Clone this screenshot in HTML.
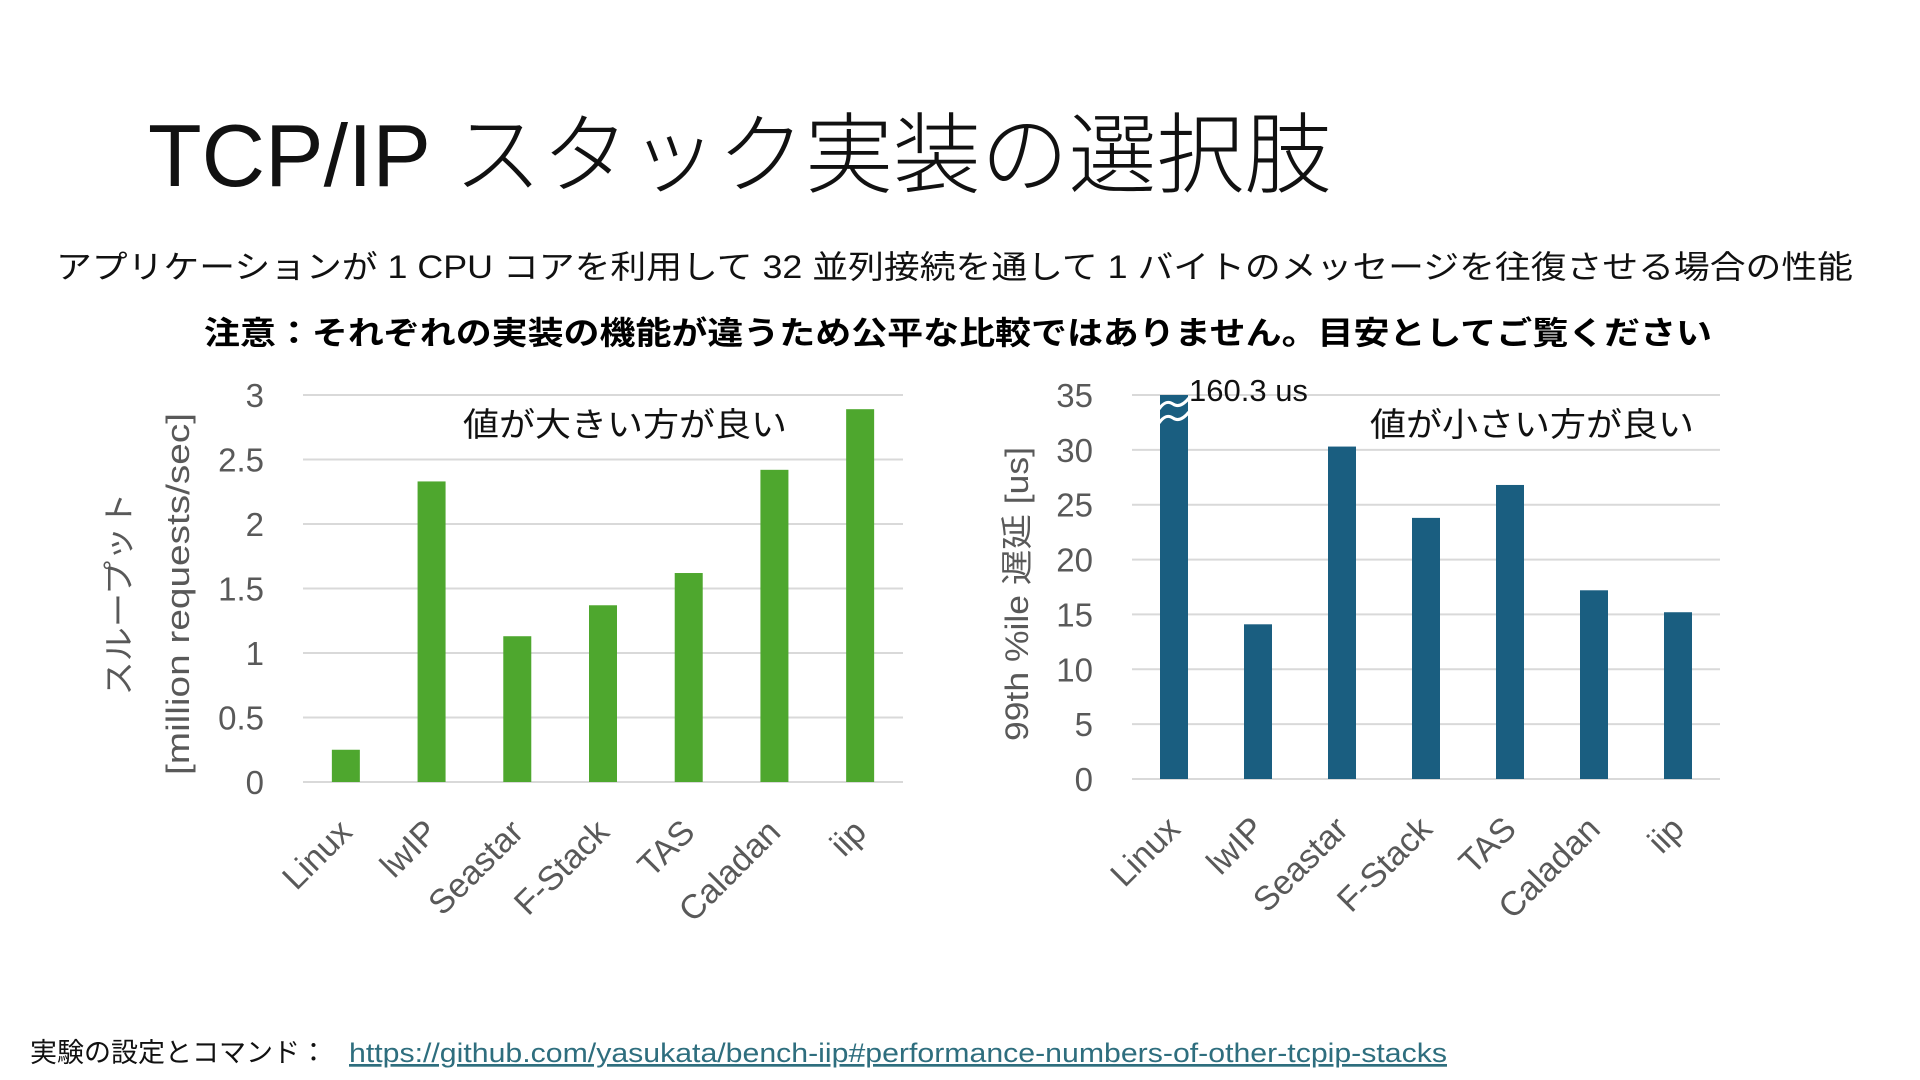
<!DOCTYPE html>
<html><head><meta charset="utf-8">
<style>
html,body{margin:0;padding:0;background:#fff;}
svg{display:block;font-family:"Liberation Sans","Noto Sans CJK JP",sans-serif;}
</style></head>
<body>
<svg id="s" width="1920" height="1080" viewBox="0 0 1920 1080" xmlns="http://www.w3.org/2000/svg">
<text x="148" y="186" font-size="88" font-weight="300" fill="#111" textLength="1184" lengthAdjust="spacingAndGlyphs">TCP/IP スタック実装の選択肢</text>
<text x="56" y="278" font-size="32" fill="#111" textLength="1797" lengthAdjust="spacingAndGlyphs">アプリケーションが 1 CPU コアを利用して 32 並列接続を通して 1 バイトのメッセージを往復させる場合の性能</text>
<text x="204" y="344" font-size="32" font-weight="bold" fill="#000" textLength="1508" lengthAdjust="spacingAndGlyphs">注意：それぞれの実装の機能が違うため公平な比較ではありません。目安としてご覧ください</text>
<g id="left"></g>
<g id="right"></g>
<text x="30" y="1062" font-size="27" fill="#111">実験の設定とコマンド：</text>
<text x="349" y="1062" font-size="27" fill="#2e6e7e" text-decoration="underline" textLength="1098" lengthAdjust="spacingAndGlyphs">https://github.com/yasukata/bench-iip#performance-numbers-of-other-tcpip-stacks</text>
</svg>
<script>
const categories = ["Linux","lwIP","Seastar","F-Stack","TAS","Caladan","iip"];
const throughputValues = [0.25, 2.33, 1.13, 1.37, 1.62, 2.42, 2.89];
const throughputTicks = ["0","0.5","1","1.5","2","2.5","3"];
const latencyValues = [160.3, 14.1, 30.3, 23.8, 26.8, 17.2, 15.2];
const latencyTicks = ["0","5","10","15","20","25","30","35"];
const NS = "http://www.w3.org/2000/svg";
function mk(parent, tag, attrs, text){
  const e = document.createElementNS(NS, tag);
  for (const k in attrs) e.setAttribute(k, attrs[k]);
  if (text !== undefined) e.textContent = text;
  parent.appendChild(e);
  return e;
}
function chart(g, cfg){
  const {x0,x1,y0,y1,ticks,max,values,color,tickX} = cfg;
  const yScale = v => y0 - (Math.min(v,max)/max)*(y0-y1);
  const step = (x1-x0)/categories.length;
  const xScale = i => x0 + step*(i+0.5);
  ticks.forEach(t=>{
    const y = yScale(parseFloat(t));
    const l = mk(g,"line",{x1:x0,x2:x1,y1:y,y2:y,stroke:"#d9d9d9","stroke-width":2});
    
    
    const tx = mk(g,"text",{x:tickX,y:y+12,"font-size":33,"text-anchor":"end",fill:"#595959"},t);
    
    
  });
  values.forEach((v,i)=>{
    const cx = xScale(i), y = yScale(v);
    const r = mk(g,"rect",{x:cx-14,y:y,width:28,height:y0-y,fill:color});
    
    
    const lx = cx+8, ly = y0+52;
    const t = mk(g,"text",{x:lx,y:ly,"font-size":34,"text-anchor":"end",fill:"#595959",transform:`rotate(-45 ${lx} ${ly})`},categories[i]);
    
    
    if (v > max){
      const b = mk(g,"path",{d:`M${cx-15} ${y+14} q7 -10 14 -5 q7 5 16 -6 M${cx-15} ${y+28} q7 -10 14 -5 q7 5 16 -6`,stroke:"#fff","stroke-width":3,fill:"none"});
      
      
      const lab = mk(g,"text",{x:cx+15,y:y+6,"font-size":31,fill:"#111"},v+" us");
      
      
    }
  });
}
const L = document.getElementById('left'), R = document.getElementById('right');
chart(L,{x0:303,x1:903,y0:782,y1:395,ticks:throughputTicks,max:3,values:throughputValues,color:"#4ea72e",tickX:264});
chart(R,{x0:1132,x1:1720,y0:779,y1:395,ticks:latencyTicks,max:35,values:latencyValues,color:"#1a5e80",tickX:1093});
let t;
t = mk(L,"text",{x:625,y:436,"font-size":33,"text-anchor":"middle",fill:"#111",textLength:324,lengthAdjust:"spacingAndGlyphs"},"値が大きい方が良い");


t = mk(L,"text",{x:130,y:594,"font-size":32,"text-anchor":"middle",fill:"#595959",transform:"rotate(-90 130 594)",textLength:203,lengthAdjust:"spacingAndGlyphs"},"スループット");


t = mk(L,"text",{x:189,y:594,"font-size":32,"text-anchor":"middle",fill:"#595959",transform:"rotate(-90 189 594)",textLength:362,lengthAdjust:"spacingAndGlyphs"},"[million requests/sec]");


t = mk(R,"text",{x:1532,y:436,"font-size":33,"text-anchor":"middle",fill:"#111",textLength:324,lengthAdjust:"spacingAndGlyphs"},"値が小さい方が良い");


t = mk(R,"text",{x:1028,y:594,"font-size":32,"text-anchor":"middle",fill:"#595959",transform:"rotate(-90 1028 594)",textLength:294,lengthAdjust:"spacingAndGlyphs"},"99th %ile 遅延 [us]");


</script>
</body></html>
